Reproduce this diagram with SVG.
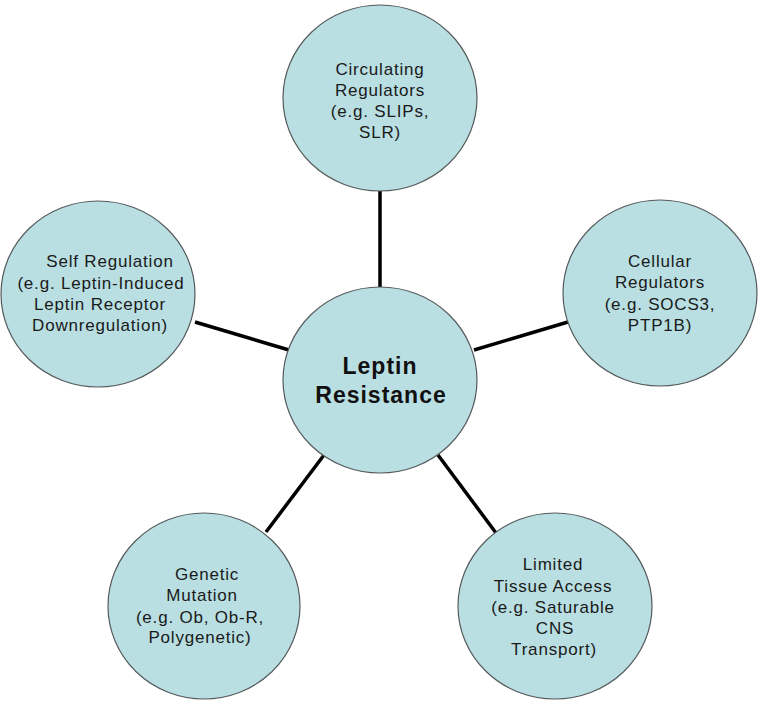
<svg xmlns="http://www.w3.org/2000/svg" width="762" height="706" viewBox="0 0 762 706">
<style>
.node ellipse{fill:#b9dfe2;stroke:#555a5c;stroke-width:1.2}
.lbl{font-family:"Liberation Sans",Arial,sans-serif;font-size:17px;letter-spacing:0.8px;fill:#1a1a1a;text-anchor:middle}
.main{font-family:"Liberation Sans",Arial,sans-serif;font-size:23px;font-weight:bold;letter-spacing:1px;fill:#111;text-anchor:middle}
.conn line{stroke:#000;stroke-width:3.5}
</style>
<rect width="762" height="706" fill="#fff"/>
<g id="connectors" class="conn">
<line x1="380" y1="190" x2="380" y2="288"/>
<line x1="195" y1="322" x2="289" y2="350"/>
<line x1="474" y1="350" x2="568" y2="322"/>
<line x1="324" y1="455" x2="266" y2="532"/>
<line x1="438" y1="455" x2="496" y2="533"/>
</g>
<g id="center" class="node">
<ellipse cx="380" cy="380" rx="97" ry="93"/>
<text class="main" x="380" y="374">Leptin</text>
<text class="main" x="381" y="403">Resistance</text>
</g>
<g id="circulating" class="node">
<ellipse cx="380" cy="98" rx="97" ry="93"/>
<text class="lbl" x="380" y="75">Circulating</text>
<text class="lbl" x="380" y="96">Regulators</text>
<text class="lbl" x="380" y="117">(e.g. SLIPs,</text>
<text class="lbl" x="380" y="138">SLR)</text>
</g>
<g id="cellular" class="node">
<ellipse cx="660" cy="293" rx="97" ry="93"/>
<text class="lbl" x="660" y="267">Cellular</text>
<text class="lbl" x="660" y="288">Regulators</text>
<text class="lbl" x="660" y="310">(e.g. SOCS3,</text>
<text class="lbl" x="660" y="331">PTP1B)</text>
</g>
<g id="self" class="node">
<ellipse cx="98" cy="294" rx="97" ry="93"/>
<text class="lbl" x="110" y="267">Self Regulation</text>
<text class="lbl" x="101" y="289">(e.g. Leptin-Induced</text>
<text class="lbl" x="100" y="310">Leptin Receptor</text>
<text class="lbl" x="100" y="331">Downregulation)</text>
</g>
<g id="genetic" class="node">
<ellipse cx="204" cy="606" rx="96" ry="93"/>
<text class="lbl" x="207" y="580">Genetic</text>
<text class="lbl" x="202" y="601">Mutation</text>
<text class="lbl" x="200" y="623">(e.g. Ob, Ob-R,</text>
<text class="lbl" x="200" y="643">Polygenetic)</text>
</g>
<g id="tissue" class="node">
<ellipse cx="555" cy="606" rx="97" ry="93"/>
<text class="lbl" x="553" y="570">Limited</text>
<text class="lbl" x="553" y="592">Tissue Access</text>
<text class="lbl" x="553" y="613">(e.g. Saturable</text>
<text class="lbl" x="555" y="634">CNS</text>
<text class="lbl" x="554" y="655">Transport)</text>
</g>
</svg>
